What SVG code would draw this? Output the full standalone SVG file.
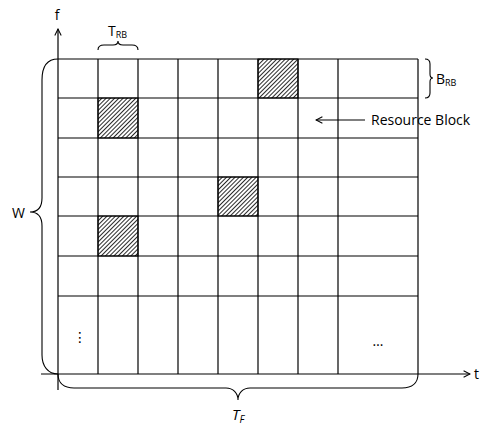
<svg xmlns="http://www.w3.org/2000/svg" width="490" height="432" viewBox="0 0 490 432">
<style>
.g{stroke:#000;stroke-width:1.2;fill:none}
.b{stroke:#000;stroke-width:1.1;fill:none}
text{font-family:"Open Sans","Liberation Sans",sans-serif;fill:#000}
.h{fill:url(#hatch);stroke:#000;stroke-width:1}
</style>
<defs>
<pattern id="hatch" patternUnits="userSpaceOnUse" width="3" height="3" patternTransform="rotate(45)">
<rect width="3" height="3" fill="#fff"/>
<line x1="0" y1="0" x2="0" y2="3" stroke="#111" stroke-width="1.8"/>
</pattern>
<marker id="arr" viewBox="0 0 10 10" refX="9" refY="5" markerWidth="8" markerHeight="8" orient="auto" markerUnits="userSpaceOnUse">
<path d="M1,1 L9,5 L1,9" fill="none" stroke="#000" stroke-width="1.3"/>
</marker>
</defs>
<g id="cells">
<rect class="h" x="258" y="59" width="40" height="39"/>
<rect class="h" x="98" y="98" width="40" height="40"/>
<rect class="h" x="218" y="177" width="40" height="39"/>
<rect class="h" x="98" y="216" width="40" height="40"/>
</g>
<g id="grid" class="g">
<line x1="58" y1="59" x2="418" y2="59"/>
<line x1="58" y1="98" x2="418" y2="98"/>
<line x1="58" y1="138" x2="418" y2="138"/>
<line x1="58" y1="177" x2="418" y2="177"/>
<line x1="58" y1="216" x2="418" y2="216"/>
<line x1="58" y1="256" x2="418" y2="256"/>
<line x1="58" y1="296" x2="418" y2="296"/>
<line x1="98" y1="59" x2="98" y2="374"/>
<line x1="138" y1="59" x2="138" y2="374"/>
<line x1="178" y1="59" x2="178" y2="374"/>
<line x1="218" y1="59" x2="218" y2="374"/>
<line x1="258" y1="59" x2="258" y2="374"/>
<line x1="298" y1="59" x2="298" y2="374"/>
<line x1="338" y1="59" x2="338" y2="374"/>
<line x1="418" y1="59" x2="418" y2="374"/>
</g>
<g id="connectors">
<line class="g" x1="58" y1="390" x2="58" y2="29" marker-end="url(#arr)"/>
<line class="g" x1="41" y1="374" x2="470" y2="374" marker-end="url(#arr)"/>
<line class="b" x1="365" y1="120" x2="316" y2="120" marker-end="url(#arr)"/>
</g>
<g id="braces" class="b">
<path d="M58,59 C48,59 42,66 42,80 L42,198 C42,207 38,212 30,212 C38,212 42,217 42,226 L42,355 C42,366 48,374 58,374"/>
<path d="M58,374 C58,383 64,388 74,388 L226,388 C233,388 238,393 238,400 C238,393 243,388 250,388 L402,388 C412,388 418,383 418,374"/>
<path d="M98,50 C98,46 100,45 104,45 L113,45 C116,45 118,44 118,41 C118,44 120,45 123,45 L132,45 C136,45 138,46 138,50"/>
<path d="M425,59 C428,59 430,61 430,64 L430,74 C430,77 431,78 433,78 C431,78 430,79 430,82 L430,93 C430,96 428,98 425,98"/>
</g>
<g id="labels">
<text x="57" y="20" font-size="14" text-anchor="middle">f</text>
<text x="474" y="379" font-size="14">t</text>
<text x="108" y="36" font-size="14">T<tspan font-size="9" dy="2">RB</tspan></text>
<text x="436" y="84" font-size="14">B<tspan font-size="9" dy="2">RB</tspan></text>
<text x="371" y="125" font-size="14">Resource Block</text>
<text x="12" y="218" font-size="14">W</text>
<text x="232" y="420" font-size="15" font-family="'Liberation Serif',serif" font-style="italic">T<tspan font-size="10" dy="3">F</tspan></text>
<text x="80" y="342" font-size="14" text-anchor="middle" style="font-family:'DejaVu Sans',sans-serif">⋮</text>
<text x="378" y="346" font-size="14" text-anchor="middle">…</text>
</g>
</svg>
